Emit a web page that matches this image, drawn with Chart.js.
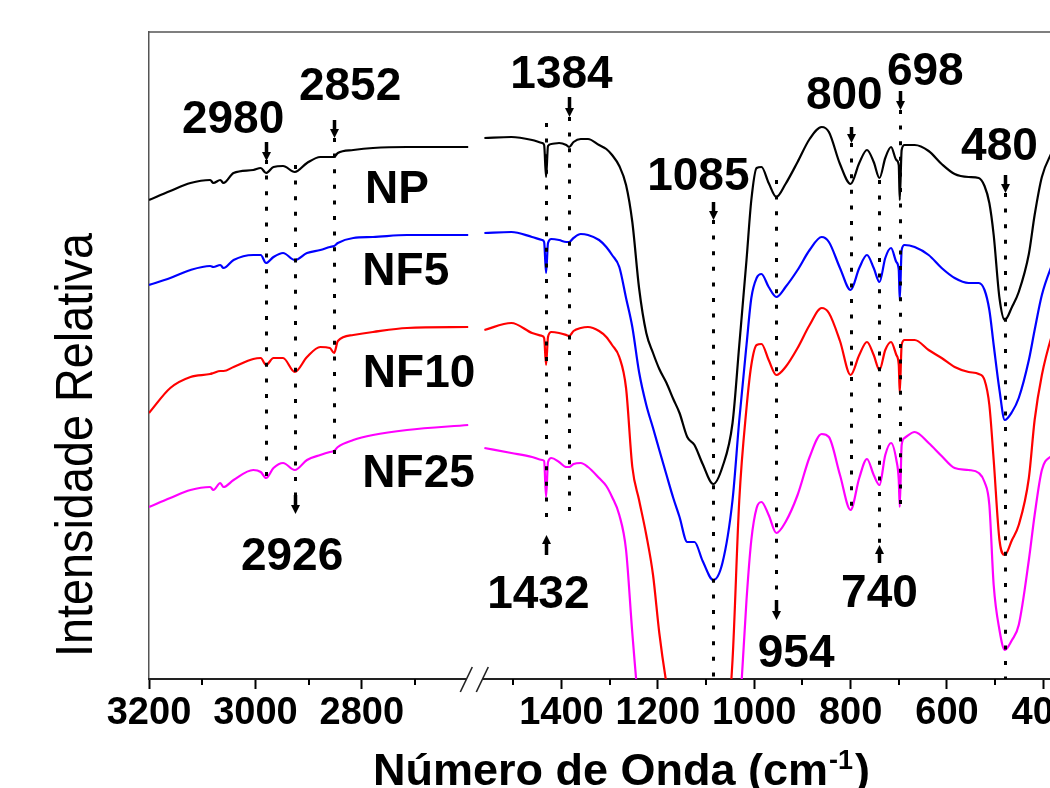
<!DOCTYPE html>
<html><head><meta charset="utf-8">
<script src="https://cdn.jsdelivr.net/npm/chart.js@4.4.0/dist/chart.umd.min.js"></script>
<style>
html,body{margin:0;padding:0;background:#fff;overflow:hidden;width:1050px;height:788px}
#wrap{position:absolute;left:0;top:0;width:1100px;height:788px}
</style>
</head><body>
<div id="wrap"><canvas id="c" width="1100" height="788" style="width:1100px;height:788px"></canvas></div>
<script>
const FONT = '"Liberation Sans", Arial, Helvetica, sans-serif';

// ---- data (wavenumber in cm-1, relative intensity in arbitrary units) ----
const wnLeft = [3200,3160,3122,3085,3079,3066,3060,3041,3004,2990,2980,2966,2948,2926,2903,2878,2860,2852,2845,2816,2779,2715,2600];
const npLeft   = [48.4,49.3,50.1,50.4,50.1,50.4,50.1,51.1,51.4,51.6,51.1,51.7,51.8,51.2,52.1,52.7,52.7,52.7,53.1,53.4,53.6,53.7,53.7];
const nf5Left  = [39.9,40.6,41.4,41.8,41.7,41.9,41.6,42.4,42.9,42.9,42.1,42.7,43.1,42.4,43.1,43.4,43.7,43.8,44.1,44.6,44.7,44.9,44.9];
const nf10Left = [27.1,29.6,30.7,31.0,31.1,31.3,31.3,31.7,32.5,32.6,31.9,32.6,32.6,31.2,32.7,33.7,33.6,33.1,34.3,34.9,35.2,35.6,35.7];
const nf25Left = [17.7,18.6,19.4,19.7,19.4,20.1,19.7,20.4,21.4,21.2,20.6,21.6,22.1,21.4,22.4,22.9,23.2,23.3,23.7,24.4,24.9,25.4,25.9];

const wnRight = [1560,1504,1461,1440,1436,1432,1428,1421,1405,1390,1384,1375,1360,1345,1322,1307,1295,1280,1266,1253,
  1239,1224,1210,1197,1182,1168,1155,1139,1124,1107,1085,1066,1045,1031,1016,1006,995,985,970,954,
  935,910,885,860,845,822,800,782,766,752,740,728,716,705,700,698,694,688,667,638,
  611,584,555,534,522,512,503,491,480,465,451,430,418,403,382,360];
const npRight = [54.6,54.7,54.4,54.1,53.9,50.7,53.8,54.0,54.1,53.9,53.7,54.2,54.5,54.5,53.9,53.5,52.9,51.8,49.9,46.2,
  39.6,35.1,33.1,31.5,30.1,28.5,27.1,24.7,23.9,22.0,20.0,21.7,26.1,33.9,42.4,48.4,51.6,51.7,50.1,48.7,
  50.0,52.2,54.5,55.7,55.2,52.0,50.0,52.1,53.4,52.2,50.6,52.6,53.7,52.4,51.9,48.4,53.4,53.9,53.9,53.3,
  52.0,51.0,50.7,50.6,49.8,48.1,44.9,38.6,36.4,37.7,39.2,43.0,46.9,50.7,53.2,55.4];
const nf5Right = [45.1,45.2,44.7,44.4,44.2,41.1,44.1,44.5,44.4,44.2,44.2,44.6,45.0,44.9,44.4,43.7,42.9,41.7,38.6,35.7,
  31.2,27.9,25.6,23.4,20.9,18.6,16.7,14.2,14.2,12.3,10.4,12.1,18.4,26.4,33.9,38.6,40.6,41.0,39.7,38.7,
  39.7,41.4,43.4,44.7,44.2,41.6,39.4,41.6,42.9,41.6,40.2,42.6,43.6,42.2,41.4,38.4,43.4,43.9,43.7,42.9,
  41.6,40.6,40.1,40.1,39.4,37.4,33.9,29.4,26.4,27.2,28.6,32.4,35.4,38.9,41.9,44.4];
const nf10Right = [35.4,36.1,35.1,34.8,34.6,31.9,34.7,35.2,35.1,34.9,34.8,35.3,35.6,35.7,35.3,34.7,33.9,32.7,29.6,21.7,
  18.4,14.9,10.9,5.1,0.0,-3.6,-6.6,-9.6,-11.6,-12.6,-13.6,-9.6,2.4,18.4,27.6,31.9,33.9,34.0,32.4,30.9,
  31.7,33.6,35.9,37.6,37.1,34.3,30.9,32.9,34.2,32.9,31.4,33.4,34.2,32.9,31.9,29.1,33.9,34.4,34.4,33.4,
  32.6,31.7,31.2,31.0,30.4,27.9,22.4,14.4,12.9,14.4,15.9,20.6,26.4,30.9,34.9,37.9];
const nf25Right = [23.6,23.1,22.7,22.4,22.3,18.7,22.2,22.6,22.2,21.7,21.7,22.0,22.1,21.7,20.6,19.8,18.7,16.9,13.4,5.1,
  -2.6,-7.6,-11.6,-14.6,-16.6,-18.6,-19.6,-20.6,-21.1,-21.6,-21.6,-19.6,-11.6,-3.6,8.4,14.4,17.6,18.2,16.9,15.1,
  16.2,18.9,22.7,25.0,24.7,20.9,17.4,20.6,22.5,20.9,19.9,22.9,24.1,22.4,20.4,17.7,23.9,24.6,25.2,24.1,
  22.8,21.6,21.4,21.1,20.2,17.9,9.9,5.4,3.4,4.4,5.9,12.4,16.9,21.4,22.9,24.4];

const seriesNames = ['NP','NF5','NF10','NF25'];
const leftSeries  = [npLeft, nf5Left, nf10Left, nf25Left];
const rightSeries = [npRight, nf5Right, nf10Right, nf25Right];

const ticksLeftMajor  = [3200,3000,2800];
const ticksLeftMinor  = [3100,2900,2700];
const ticksRightMajor = [1400,1200,1000,800,600,400];
const ticksRightMinor = [1500,1300,1100,900,700,500];

const peakWn   = [2980,2926,2852,1432,1384,1085,954,800,740,698,480];

// ---- styles / layout (not data) ----
const seriesColors = ['#000000','#0000ff','#ff0000','#ff00ff'];
// label anchors in axis units: [wavenumber of left edge, intensity of baseline]
const seriesLabelPos = [[2794,48.1],[2799,39.9],[2798,29.7],[2799,19.7]];
// per peak: dotted line [from,to], arrow [tail,tip], label [center wavenumber, baseline]
const peakLayout = {
  2980: {ax:'xL', dot:[52.4,20.4], arrow:[54.2,52.3], lab:[3042,55.1]},
  2926: {ax:'xL', dot:[51.9,18.8], arrow:[18.9,17.0], lab:[2931,11.4]},
  2852: {ax:'xL', dot:[54.6,22.4], arrow:[56.4,54.6], lab:[2822,58.4]},
  1432: {ax:'xR', dot:[56.1,15.7], arrow:[12.9,14.9], lab:[1448,7.6]},
  1384: {ax:'xR', dot:[56.7,17.1], arrow:[58.7,56.7], lab:[1400,59.6]},
  1085: {ax:'xR', dot:[46.4,0.5],  arrow:[48.2,46.4], lab:[1116,49.4]},
  954:  {ax:'xR', dot:[50.4,8.4],  arrow:[8.4,6.4],   lab:[913,1.7]},
  800:  {ax:'xR', dot:[54.1,17.4], arrow:[55.7,54.1], lab:[813,57.5]},
  740:  {ax:'xR', dot:[50.4,13.9], arrow:[12.1,13.9], lab:[740,7.7]},
  698:  {ax:'xR', dot:[57.4,16.9], arrow:[59.3,57.4], lab:[645,59.9]},
  480:  {ax:'xR', dot:[49.1,0.5],  arrow:[50.9,49.1], lab:[491,52.4]}
};

const datasets = [];
seriesNames.forEach((name, k) => {
  datasets.push({label: name + ' L', xAxisID:'xL', yAxisID:'y',
    data: wnLeft.map((w,i)=>({x:w, y:leftSeries[k][i]})),
    borderColor: seriesColors[k], borderWidth: 2.2, pointRadius: 0, fill:false, cubicInterpolationMode:'monotone'});
  datasets.push({label: name + ' R', xAxisID:'xR', yAxisID:'y',
    data: wnRight.map((w,i)=>({x:w, y:rightSeries[k][i]})),
    borderColor: seriesColors[k], borderWidth: 2.2, pointRadius: 0, fill:false, cubicInterpolationMode:'monotone'});
});

function fixFit(s){ s.height = 0; s.paddingLeft = 0; s.paddingRight = 0; s.paddingTop = 0; s.paddingBottom = 0; }

const tickFont = {family: FONT, size: 38, weight: 'bold'};
// mirrored labels are not clipped to the (zero-height) scale box; negative padding puts them below the axis
const tickOpts = {font: tickFont, color:'#000', mirror: true, padding: -57, maxRotation:0, autoSkip:false, callback: v => String(v)};

const decor = {
  id: 'decor',
  afterDraw(chart) {
    const ctx = chart.ctx, ca = chart.chartArea, sy = chart.scales.y;
    const sc = {xL: chart.scales.xL, xR: chart.scales.xR};
    const line = (x1,y1,x2,y2) => { ctx.beginPath(); ctx.moveTo(x1,y1); ctx.lineTo(x2,y2); ctx.stroke(); };
    ctx.save();
    // frame top/right
    ctx.strokeStyle = '#555'; ctx.lineWidth = 1.5; ctx.setLineDash([]);
    ctx.beginPath(); ctx.moveTo(ca.left, ca.top); ctx.lineTo(ca.right, ca.top); ctx.lineTo(ca.right, ca.bottom); ctx.stroke();
    // minor ticks
    ctx.strokeStyle = '#000'; ctx.lineWidth = 2;
    ticksLeftMinor.forEach(v => { const x = Math.round(sc.xL.getPixelForValue(v)); line(x, ca.bottom, x, ca.bottom + 6); });
    ticksRightMinor.forEach(v => { const x = Math.round(sc.xR.getPixelForValue(v)); line(x, ca.bottom, x, ca.bottom + 6); });
    // axis break
    const bx = (sc.xL.getPixelForValue(wnLeft[wnLeft.length-1]) + sc.xR.getPixelForValue(wnRight[0]))/2 - 2;
    ctx.fillStyle = '#fff'; ctx.fillRect(bx - 8, ca.bottom - 2.5, 16, 5);
    ctx.strokeStyle = '#222'; ctx.lineWidth = 1.6;
    line(bx - 14, ca.bottom + 13, bx - 2, ca.bottom - 12);
    line(bx + 2, ca.bottom + 13, bx + 14, ca.bottom - 12);
    // peak markers
    peakWn.forEach(wn => {
      const L = peakLayout[wn]; const s = sc[L.ax];
      const x = Math.round(s.getPixelForValue(wn)) + 0.5;
      ctx.strokeStyle = '#000'; ctx.fillStyle = '#000';
      ctx.lineWidth = 3; ctx.setLineDash([4, 11.6]);
      line(x, sy.getPixelForValue(L.dot[0]), x, sy.getPixelForValue(L.dot[1]));
      ctx.setLineDash([]);
      const yT = sy.getPixelForValue(L.arrow[0]), yP = sy.getPixelForValue(L.arrow[1]);
      const dir = yP > yT ? 1 : -1;
      ctx.lineWidth = 3.5;
      line(x, yT, x, yP - dir*7);
      ctx.beginPath(); ctx.moveTo(x - 4.5, yP - dir*9); ctx.lineTo(x + 4.5, yP - dir*9); ctx.lineTo(x, yP); ctx.closePath(); ctx.fill();
      ctx.font = 'bold 46px ' + FONT; ctx.textAlign = 'center'; ctx.textBaseline = 'alphabetic';
      ctx.fillText(String(wn), s.getPixelForValue(L.lab[0]), sy.getPixelForValue(L.lab[1]));
    });
    // series labels
    ctx.font = 'bold 46px ' + FONT; ctx.textAlign = 'left'; ctx.fillStyle = '#000';
    seriesNames.forEach((n,k) => {
      ctx.fillText(n, sc.xL.getPixelForValue(seriesLabelPos[k][0]), sy.getPixelForValue(seriesLabelPos[k][1]));
    });
    // y title
    const yt = 'Intensidade Relativa';
    ctx.save();
    ctx.translate(92, 657); ctx.rotate(-Math.PI/2);
    ctx.font = '52px ' + FONT;
    const wy = ctx.measureText(yt).width;
    ctx.scale(424 / wy, 1);
    ctx.textAlign = 'left'; ctx.fillText(yt, 0, 0);
    ctx.restore();
    // x title with superscript
    ctx.save();
    const a = 'Número de Onda (cm', sup = '-1', c = ')';
    ctx.font = 'bold 45px ' + FONT; const wa = ctx.measureText(a).width, wc = ctx.measureText(c).width;
    ctx.font = 'bold 27px ' + FONT; const ws = ctx.measureText(sup).width;
    const tot = wa + ws + wc + 3;
    ctx.translate(373, 785); ctx.scale(497 / tot, 1);
    ctx.textAlign = 'left';
    ctx.font = 'bold 45px ' + FONT; ctx.fillText(a, 0, 0);
    ctx.font = 'bold 27px ' + FONT; ctx.fillText(sup, wa + 1, -16);
    ctx.font = 'bold 45px ' + FONT; ctx.fillText(c, wa + ws + 3, 0);
    ctx.restore();
    ctx.restore();
  }
};

new Chart(document.getElementById('c'), {
  type: 'line',
  data: { datasets },
  options: {
    responsive: false, animation: false,
    layout: { padding: {left: 149, right: 10, top: 32, bottom: 109}, autoPadding: false },
    plugins: { legend: {display:false}, tooltip: {enabled:false}, title:{display:false} },
    elements: { point: {radius: 0} },
    scales: {
      y: { axis:'y', type:'linear', position:'left', min: 0.5, max: 65.2,
           ticks: {display:false}, grid: {display:false, drawTicks:false},
           border: {display:true, color:'#555', width:1.5},
           afterFit: s => { s.width = 0; s.paddingTop = 0; s.paddingBottom = 0; } },
      xR: { axis:'x', type:'linear', position:'bottom', reverse: true, min: 303.1, max: 2256.1,
            afterBuildTicks: s => { s.ticks = ticksRightMajor.map(v => ({value: v})); },
            afterFit: fixFit,
            ticks: tickOpts,
            grid: {display:true, drawOnChartArea:false, drawTicks:true, tickLength:10, tickWidth:2, tickColor:'#000'},
            border: {display:false} },
      xL: { axis:'x', type:'linear', position:'bottom', reverse: true, min: 1431.2, max: 3200,
            afterBuildTicks: s => { s.ticks = ticksLeftMajor.map(v => ({value: v})); },
            afterFit: fixFit,
            ticks: tickOpts,
            grid: {display:true, drawOnChartArea:false, drawTicks:true, tickLength:10, tickWidth:2, tickColor:'#000'},
            border: {display:true, color:'#222', width:2} }
    }
  },
  plugins: [decor]
});
</script>
</body></html>
